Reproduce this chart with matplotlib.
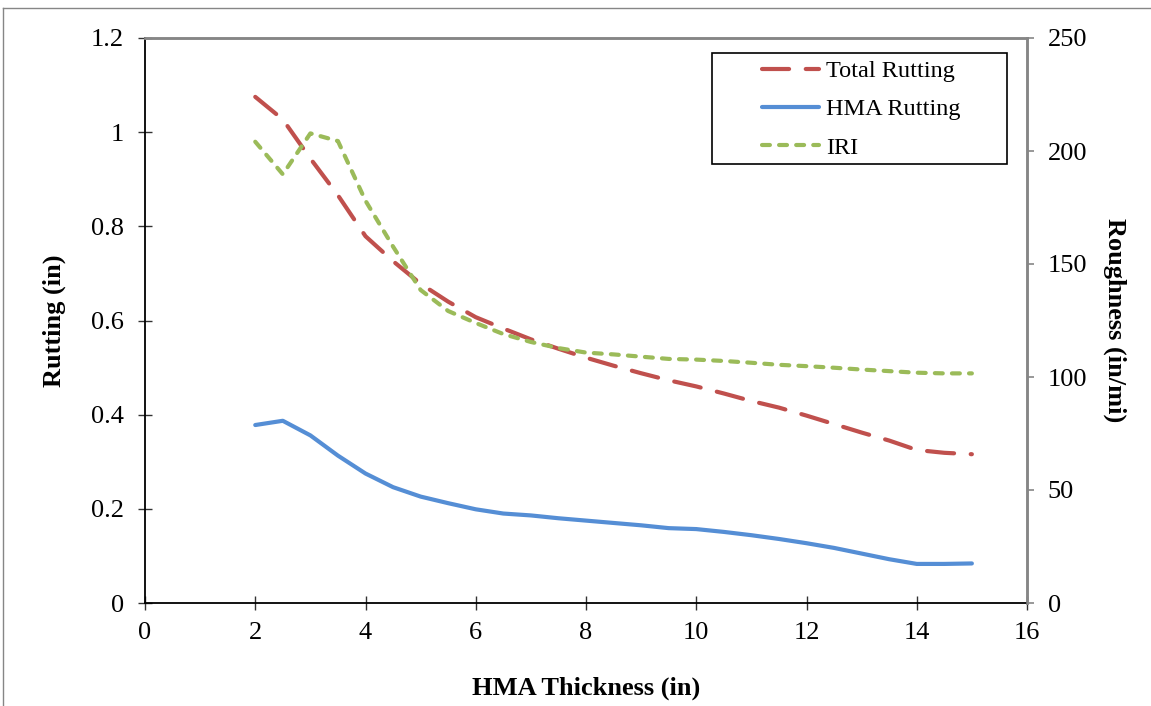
import matplotlib
matplotlib.use("Agg")
import matplotlib.pyplot as plt
from matplotlib.lines import Line2D
from matplotlib.patches import Rectangle
from matplotlib.ticker import FuncFormatter

# HMA thickness (in) and model outputs
thickness = [2, 2.5, 3, 3.5, 4, 4.5, 5, 5.5, 6, 6.5, 7, 7.5, 8, 8.5,
             9, 9.5, 10, 10.5, 11, 11.5, 12, 12.5, 13, 13.5, 14, 14.5, 15]
total_rutting = [1.075, 1.027, 0.944, 0.866, 0.779, 0.726, 0.678, 0.640, 0.607,
                 0.583, 0.560, 0.540, 0.521, 0.504, 0.488, 0.473, 0.460, 0.445,
                 0.429, 0.415, 0.398, 0.380, 0.362, 0.345, 0.325, 0.319, 0.316]
hma_rutting = [0.378, 0.387, 0.356, 0.313, 0.275, 0.246, 0.226, 0.212, 0.199,
               0.190, 0.186, 0.180, 0.175, 0.170, 0.165, 0.159, 0.157, 0.151,
               0.144, 0.136, 0.127, 0.117, 0.105, 0.093, 0.083, 0.083, 0.084]
iri = [204.1, 189.7, 207.8, 204.4, 178.0, 157.7, 138.5, 129.2, 123.9, 119.0,
       115.5, 112.8, 110.8, 110.0, 109.0, 108.0, 107.7, 107.1, 106.3, 105.4,
       104.8, 104.1, 103.3, 102.6, 101.9, 101.6, 101.6]

RED = "#C0504D"
BLUE = "#558ED5"
GREEN = "#9BBB59"
GREY = "#868686"

plt.rcParams["font.family"] = ["Liberation Serif", "DejaVu Serif"]
plt.rcParams["font.size"] = 19

W, H = 1151, 706
fig = plt.figure(figsize=(W / 100, H / 100), dpi=100)
ax = fig.add_axes([145 / W, 1 - 603 / H, (1027 - 145) / W, (603 - 38) / H])
ax2 = ax.twinx()

l1, = ax.plot(thickness, total_rutting, color=RED, lw=3, dashes=(6.5, 4),
              dash_capstyle="round", label="Total Rutting")
l2, = ax.plot(thickness, hma_rutting, color=BLUE, lw=3, solid_capstyle="round",
              label="HMA Rutting")
l3, = ax2.plot(thickness, iri, color=GREEN, lw=3, dashes=(1.9, 2.2),
               dash_capstyle="round", label="IRI")

ax.set_xlim(0, 16)
ax.set_ylim(0, 1.2)
ax2.set_ylim(0, 250)
ax.set_xticks(range(0, 17, 2))
ax.set_yticks([0, 0.2, 0.4, 0.6, 0.8, 1.0, 1.2])
ax2.set_yticks(range(0, 251, 50))
ax.yaxis.set_major_formatter(FuncFormatter(lambda v, p: "%g" % round(v, 2)))

for s in ["left", "bottom"]:
    ax.spines[s].set_color("black")
    ax.spines[s].set_linewidth(1.3)
for a in (ax, ax2):
    a.spines["top"].set_color(GREY)
    a.spines["top"].set_linewidth(1.8)
    a.spines["right"].set_color(GREY)
    a.spines["right"].set_linewidth(1.8)
ax2.spines["left"].set_visible(False)
ax2.spines["bottom"].set_visible(False)

ax.tick_params(axis="both", direction="inout", length=10, width=1, color="#333333")
ax.tick_params(axis="y", pad=10, labelsize=19)
ax.tick_params(axis="x", pad=9, labelsize=19)
ax2.tick_params(axis="y", direction="out", length=5, width=1.2, color=GREY,
                pad=10, labelsize=19)

ax.set_xlabel("HMA Thickness (in)", fontweight="bold", fontsize=19, labelpad=23)
ax.set_ylabel("Rutting (in)", fontweight="bold", fontsize=19, labelpad=18)
ax2.set_ylabel("Roughness (in/mi)", fontweight="bold", fontsize=19,
               rotation=270, labelpad=28)

# legend box, drawn separately so the entries can sit well inside it
ax2.add_patch(Rectangle((712 / W, 1 - 164 / H), (1007 - 712) / W, (164 - 53) / H,
                        transform=fig.transFigure, clip_on=False, fill=True,
                        facecolor="white", edgecolor="black", lw=1.2, zorder=4))
leg = ax2.legend(handles=[l1, l2, l3], loc="upper left",
                 bbox_to_anchor=(762 / W, 1 - 60 / H),
                 bbox_transform=fig.transFigure, fontsize=17.5,
                 frameon=False, handlelength=2.35, handletextpad=0.3,
                 borderpad=0, labelspacing=0.67, borderaxespad=0)
leg.set_zorder(6)

# chart area border (left and top edges)
fig.add_artist(Line2D([3 / W, 3 / W], [0, 1 - 8 / H],
                      transform=fig.transFigure, color=GREY, lw=1))
fig.add_artist(Line2D([3 / W, 1], [1 - 8 / H, 1 - 8 / H],
                      transform=fig.transFigure, color=GREY, lw=1))

fig.savefig("out.png", dpi=100, facecolor="white")
